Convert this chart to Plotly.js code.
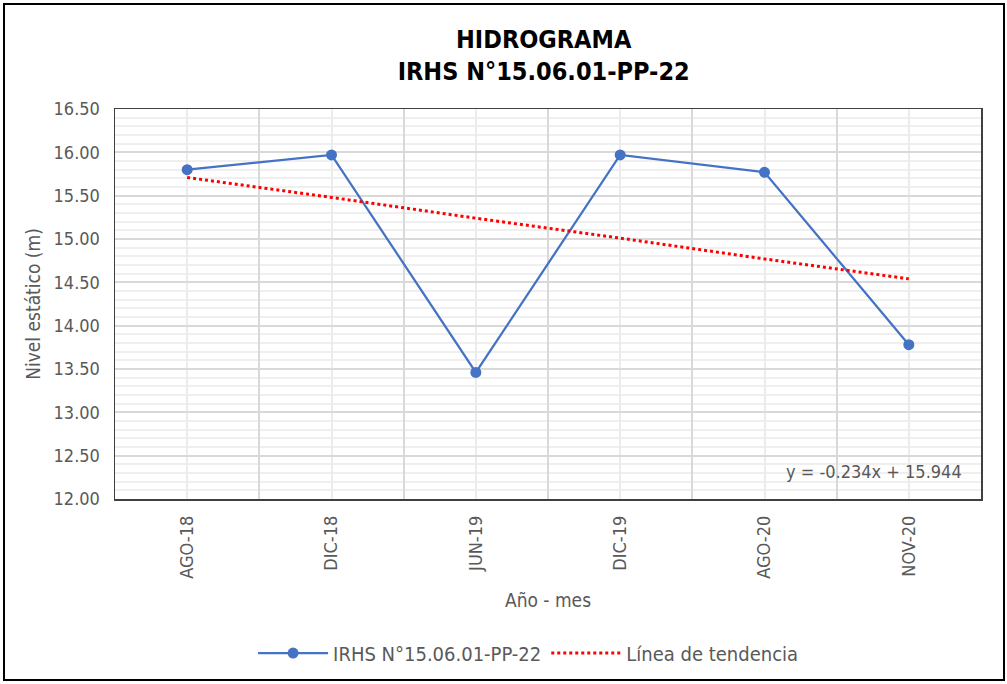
<!DOCTYPE html>
<html>
<head>
<meta charset="utf-8">
<script src="https://cdn.plot.ly/plotly-3.0.1.min.js"></script>
<style>
html,body{margin:0;padding:0;background:#fff;}
#wrap{position:relative;width:1007px;height:684px;}
#chart{width:1007px;height:684px;}
#frame{position:absolute;left:3px;top:3px;width:998px;height:674px;border:2px solid #000;pointer-events:none;}
</style>
</head>
<body>
<div id="wrap"><div id="chart"></div><div id="frame"></div></div>
<script>
// Data
const categories = ["AGO-18", "DIC-18", "JUN-19", "DIC-19", "AGO-20", "NOV-20"];
const positions = [1, 2, 3, 4, 5, 6];
const nivel = [15.80, 15.97, 13.46, 15.97, 15.77, 13.78];
const tendencia = [15.71, 15.48, 15.24, 15.01, 14.77, 14.54];
const yTicks = [12.0, 12.5, 13.0, 13.5, 14.0, 14.5, 15.0, 15.5, 16.0, 16.5];
const boundaries = [0.5, 1.5, 2.5, 3.5, 4.5, 5.5, 6.5];
const seriesName = "IRHS N°15.06.01-PP-22";
const trendName = "Línea de tendencia";
const equation = "y = -0.234x + 15.944";

const FONT = '"Liberation Sans Narrow", "Arial Narrow", "DejaVu Sans Condensed", sans-serif';

const traces = [
  {x: [1], y: [null], xaxis: 'x2', yaxis: 'y', showlegend: false, hoverinfo: 'skip', type: 'scatter', mode: 'lines'},
  {
    x: positions, y: nivel, name: seriesName, type: 'scatter', mode: 'lines+markers',
    line: {color: '#4472C4', width: 2.25},
    marker: {color: '#4472C4', size: 11, symbol: 'circle'}
  },
  {
    x: positions, y: tendencia, name: trendName, type: 'scatter', mode: 'lines',
    line: {color: '#FF0000', width: 3, dash: 'dot'}
  }
];

const layout = {
  width: 1007, height: 684,
  paper_bgcolor: '#ffffff', plot_bgcolor: '#ffffff',
  margin: {l: 115, r: 26, t: 109, b: 183},
  font: {family: FONT, color: '#595959', size: 16},
  title: {
    text: '<b>HIDROGRAMA</b><br><b>IRHS N°15.06.01-PP-22</b>',
    font: {family: FONT, size: 25, color: '#000000'},
    x: 0.495, xref: 'paper', xanchor: 'center',
    y: 0.93, yref: 'container', yanchor: 'top'
  },
  showlegend: true,
  legend: {
    orientation: 'h', x: 0.477, xanchor: 'center', y: -0.395, yanchor: 'middle',
    font: {family: FONT, size: 20, color: '#595959'},
    itemwidth: 70, traceorder: 'normal'
  },
  xaxis: {
    range: [0.5, 6.5], tickmode: 'array', tickvals: positions, ticktext: categories,
    tickangle: -90, ticks: '', ticklabelstandoff: 8,
    showgrid: true, gridcolor: '#ececec', gridwidth: 2,
    showline: true, linecolor: '#404040', linewidth: 1.5, mirror: true,
    zeroline: false, tickfont: {family: FONT, size: 18, color: '#595959'},
    title: {text: 'Año - mes', font: {family: FONT, size: 19, color: '#595959'}, standoff: 16}
  },
  xaxis2: {
    overlaying: 'x', range: [0.5, 6.5], tickmode: 'array', tickvals: boundaries,
    showticklabels: false, ticks: '', showgrid: true, gridcolor: '#d9d9d9', gridwidth: 2,
    zeroline: false, showline: false
  },
  yaxis: {
    range: [12, 16.5], tickmode: 'array', tickvals: yTicks, tickformat: '.2f',
    ticks: '', ticklabelstandoff: 10,
    showgrid: true, gridcolor: '#d9d9d9', gridwidth: 2,
    minor: {dtick: 0.1, tick0: 12, showgrid: true, gridcolor: '#efefef', gridwidth: 2},
    showline: true, linecolor: '#404040', linewidth: 1.5, mirror: true,
    zeroline: false, tickfont: {family: FONT, size: 18, color: '#595959'},
    title: {text: 'Nivel estático (m)', font: {family: FONT, size: 19, color: '#595959'}, standoff: 8}
  },
  annotations: [
    {
      text: equation, xref: 'paper', yref: 'paper', x: 0.876, y: 0.07,
      xanchor: 'center', yanchor: 'middle', showarrow: false,
      font: {family: FONT, size: 18, color: '#595959'}
    }
  ]
};

Plotly.newPlot('chart', traces, layout, {displayModeBar: false, staticPlot: true});
</script>
</body>
</html>
